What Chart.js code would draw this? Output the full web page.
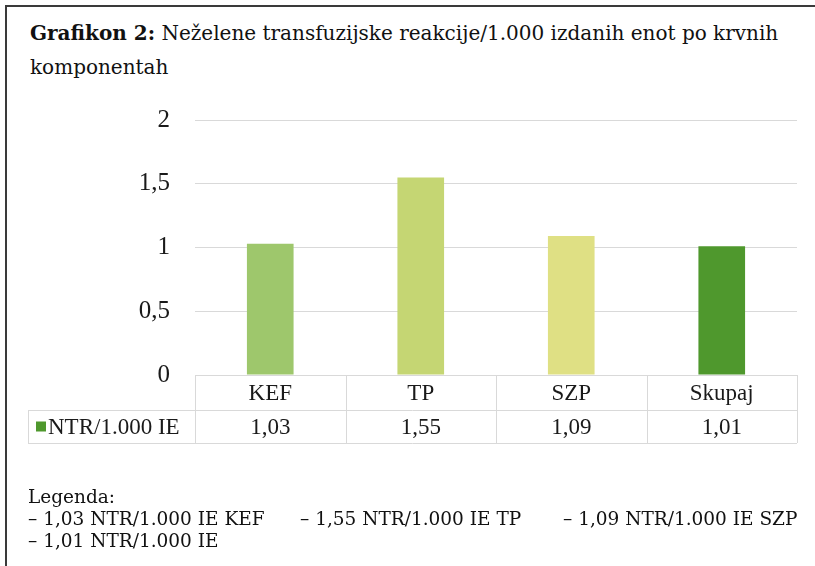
<!DOCTYPE html>
<html>
<head>
<meta charset="utf-8">
<script src="https://cdn.jsdelivr.net/npm/chart.js@4.4.1/dist/chart.umd.min.js"></script>
<style>
  html, body { margin: 0; background: #fff; width: 815px; height: 566px; overflow: hidden; }
  body { position: relative; }
  .frame { position: absolute; left: 5px; top: 5px; width: 810px; height: 561px; border-left: 2px solid #3a3a3a; border-top: 2px solid #3a3a3a; box-sizing: border-box; }
  .title { position: absolute; left: 30px; top: 16px; font-family: "DejaVu Serif", serif; font-size: 20px; line-height: 34px; color: #111; white-space: nowrap; }
  .legend { position: absolute; font-family: "DejaVu Serif", serif; font-size: 18.5px; color: #111; white-space: nowrap; }
  #wrap { position: absolute; left: 0; top: 0; width: 815px; height: 566px; }
</style>
</head>
<body>
<div class="frame"></div>
<div class="title"><b>Grafikon 2:</b> Neželene transfuzijske reakcije/1.000 izdanih enot po krvnih<br>komponentah</div>
<div id="wrap"><canvas id="myBarChart"></canvas></div>
<div class="legend" style="left:28px; top:486px;">Legenda:</div>
<div class="legend" style="left:28px; top:508px;">– 1,03 NTR/1.000 IE KEF</div>
<div class="legend" style="left:300px; top:508px;">– 1,55 NTR/1.000 IE TP</div>
<div class="legend" style="left:563px; top:508px;">– 1,09 NTR/1.000 IE SZP</div>
<div class="legend" style="left:28px; top:530px;">– 1,01 NTR/1.000 IE</div>
<script>
// Data for the chart
var categories = ["KEF", "TP", "SZP", "Skupaj"];
var values = [1.03, 1.55, 1.09, 1.01];
var valueLabels = ["1,03", "1,55", "1,09", "1,01"];
var yTickLabels = ["0", "0,5", "1", "1,5", "2"];
var seriesName = "NTR/1.000 IE";
var barColors = ["#9ec76c", "#c5d673", "#dfe084", "#4f982d"];

var gridColor = "#d9d9d9";
var tableFont = '23px "Liberation Serif", serif';

// draws the data table under the plot (Excel style)
var dataTable = {
  id: "dataTable",
  afterDraw: function (chart) {
    var ctx = chart.ctx;
    var area = chart.chartArea;
    var x = chart.scales.x;
    var row1 = area.bottom;
    var row2 = row1 + 35;
    var row3 = row2 + 33;
    var leftEdge = 28;

    ctx.save();
    ctx.strokeStyle = gridColor;
    ctx.lineWidth = 1;
    ctx.beginPath();
    // column borders
    for (var i = 0; i <= categories.length; i++) {
      var px = i === 0 ? area.left : i === categories.length ? area.right
        : (x.getPixelForValue(i - 1) + x.getPixelForValue(i)) / 2;
      px = Math.round(px) + 0.5;
      ctx.moveTo(px, row1);
      ctx.lineTo(px, row3);
    }
    ctx.moveTo(leftEdge + 0.5, row2);
    ctx.lineTo(leftEdge + 0.5, row3);
    ctx.moveTo(leftEdge, row2 + 0.5);
    ctx.lineTo(area.right, row2 + 0.5);
    ctx.moveTo(leftEdge, row3 + 0.5);
    ctx.lineTo(area.right, row3 + 0.5);
    ctx.stroke();

    var midY = (row2 + row3) / 2;
    // legend key
    ctx.fillStyle = barColors[3];
    ctx.fillRect(36, midY - 5, 10, 10);
    ctx.fillStyle = "#1a1a1a";
    ctx.font = tableFont;
    ctx.textBaseline = "middle";
    ctx.textAlign = "left";
    ctx.fillText(seriesName, 48, midY + 1);
    ctx.textAlign = "center";
    for (var j = 0; j < valueLabels.length; j++) {
      ctx.fillText(valueLabels[j], x.getPixelForValue(j), midY + 1);
    }
    ctx.restore();
  },
};

var ctx = document.getElementById("myBarChart");

var myBarChart = new Chart(ctx, {
  type: "bar",
  data: {
    labels: categories,
    datasets: [
      {
        label: seriesName,
        data: values,
        backgroundColor: barColors,
        categoryPercentage: 1,
        barPercentage: 0.31,
      },
    ],
  },
  options: {
    responsive: true,
    maintainAspectRatio: false,
    animation: false,
    layout: {
      padding: { top: 120, bottom: 566 - 443, left: 0, right: 18 },
    },
    plugins: {
      legend: { display: false },
      tooltip: { enabled: false },
    },
    scales: {
      x: {
        grid: { display: false },
        border: { display: false },
        ticks: {
          color: "#1a1a1a",
          font: { family: '"Liberation Serif", serif', size: 23 },
          padding: -3,
        },
        afterFit: function (s) {
          s.height = 68;
        },
      },
      y: {
        min: 0,
        max: 2,
        border: { display: false },
        grid: { color: gridColor, drawTicks: false },
        ticks: {
          stepSize: 0.5,
          color: "#1a1a1a",
          font: { family: '"Liberation Serif", serif', size: 25 },
          padding: 25,
          callback: function (v, i) {
            return yTickLabels[i];
          },
        },
        afterFit: function (s) {
          s.width = 195;
        },
      },
    },
  },
  plugins: [dataTable],
});
</script>
</body>
</html>
